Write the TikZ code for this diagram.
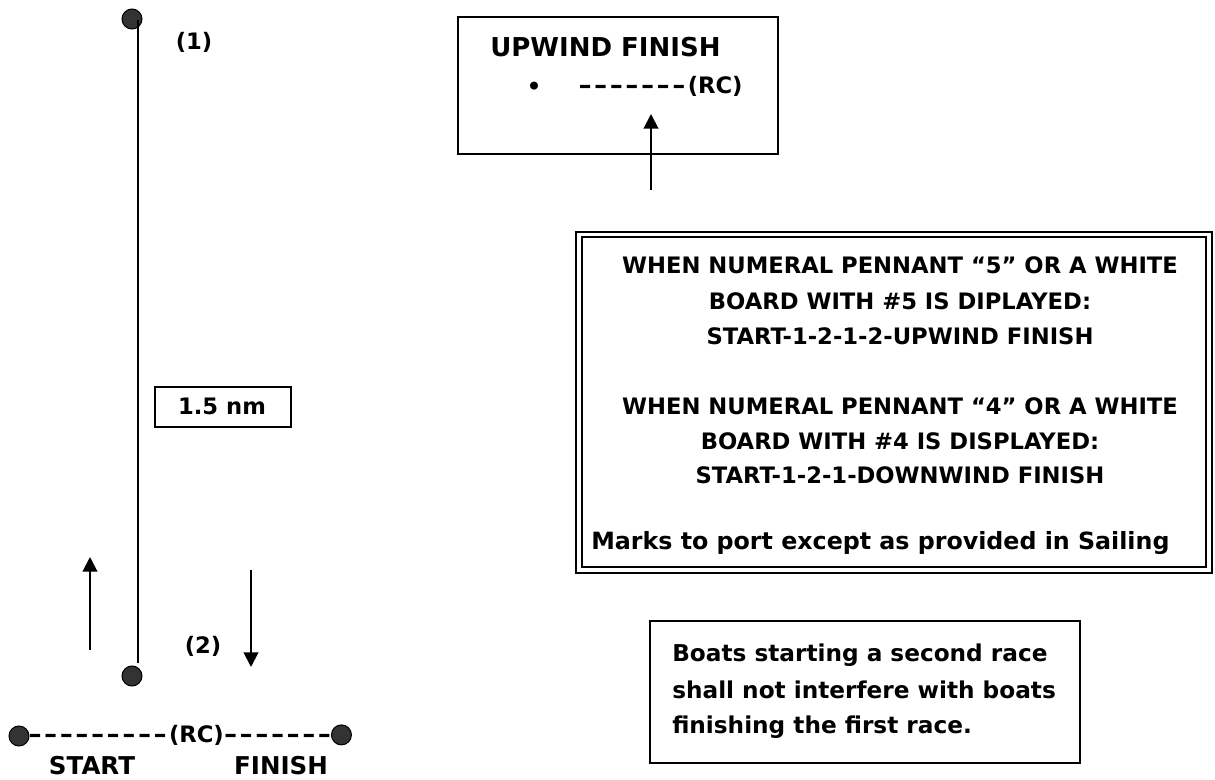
\documentclass[tikz,border=0pt]{standalone}
\usepackage{fontspec}
\usepackage{graphicx}
\setmainfont{DejaVu Sans}[Ligatures=TeXOff]
\usetikzlibrary{arrows.meta}
\tikzset{
  txt/.style={font=\fontsize{17}{20}\selectfont\bfseries, inner sep=0pt, anchor=base},
  txtw/.style={txt, anchor=base west},
  bigtxt/.style={txt, font=\fontsize{18.4}{22}\selectfont\bfseries},
  titletxt/.style={txtw, font=\fontsize{19.5}{23}\selectfont\bfseries},
  lowtxt/.style={txtw, font=\fontsize{17.8}{20}\selectfont\bfseries},
  notetxt/.style={txtw, font=\fontsize{17.4}{20}\selectfont\bfseries},
  markdot/.style={circle, fill=black!80, draw=black, line width=0.75pt, minimum size=15pt, inner sep=0pt},
  arr/.style={line width=1.5pt, -{Triangle[width=11pt,length=11pt]}},
  boxline/.style={draw=black, line width=1.5pt},
  course/.style={line width=1.5pt}
}
\newcommand{\hy}{\scalebox{1.45}[1]{-}\kern1.5pt}
\begin{document}
\begin{tikzpicture}[x=0.75pt,y=-0.75pt]
\useasboundingbox (0,0) rectangle (1215,780);

% ---------- left course ----------
\node[markdot] (m1) at (132,19) {};
\node[markdot] (m2) at (132,676) {};
\coordinate (ltop) at (138,20);
\coordinate (lbot) at (138,663);
\draw[course] (ltop) -- (lbot);
\node[txt] (lab1) at (194,50) {(1)};
\node[txt] (lab2) at (203,653) {(2)};

\draw[boxline, line width=1pt] (155,387) rectangle (291,427);
\node[txt] (dist) at (222,415) {1.5 nm};

\coordinate (upS) at (90,650);
\coordinate (upE) at (90,557);
\draw[arr] (upS) -- (upE);
\coordinate (dnS) at (251,570);
\coordinate (dnE) at (251,667);
\draw[arr] (dnS) -- (dnE);

% start / finish line
\node[markdot] (sl) at (19,736) {};
\node[txtw] (rcline) at (28,742) {\hy\hy\hy\hy\hy\hy\hy\hy\hy(RC)\hy\hy\hy\hy\hy\hy\hy};
\node[markdot, anchor=west] (sr) at ([xshift=-2pt]rcline.east) {};
\node[bigtxt] (start) at (92,774) {START};
\node[bigtxt] (finish) at (281,774) {FINISH};

% ---------- upwind finish box ----------
\draw[boxline] (458,17) rectangle (778,154);
\node[titletxt] (upw) at (490,57) {UPWIND FINISH};
\node[txt] (bul) at (534,95) {•};
\node[txtw] (uprc) at (578,94) {\hy\hy\hy\hy\hy\hy\hy(RC)};
\coordinate (uaS) at (651,190);
\coordinate (uaE) at (651,114);
\draw[arr] (uaS) -- (uaE);

% ---------- instruction box (double border) ----------
\draw[black, line width=1.5pt] (576,232) rectangle (1212,573);
\draw[black, line width=1pt] (582,237) rectangle (1206,567);
\node[txt] (a1) at (900,274) {WHEN NUMERAL PENNANT “5” OR A WHITE};
\node[txt] (a2) at (900,310) {BOARD WITH \#5 IS DIPLAYED:};
\node[txt] (a3) at (900,345) {START-1-2-1-2-UPWIND FINISH};
\node[txt] (b1) at (900,415) {WHEN NUMERAL PENNANT “4” OR A WHITE};
\node[txt] (b2) at (900,450) {BOARD WITH \#4 IS DISPLAYED:};
\node[txt] (b3) at (900,484) {START-1-2-1-DOWNWIND FINISH};
\node[lowtxt] (c1) at (591,550) {Marks to port except as provided in Sailing};

% ---------- note box ----------
\draw[boxline, line width=1pt] (650,621) rectangle (1080,763);
\node[notetxt] (n1) at (672,662) {Boats starting a second race};
\node[notetxt] (n2) at (672,698) {shall not interfere with boats};
\node[notetxt] (n3) at (672,734) {finishing the first race.};
\end{tikzpicture}
\end{document}
